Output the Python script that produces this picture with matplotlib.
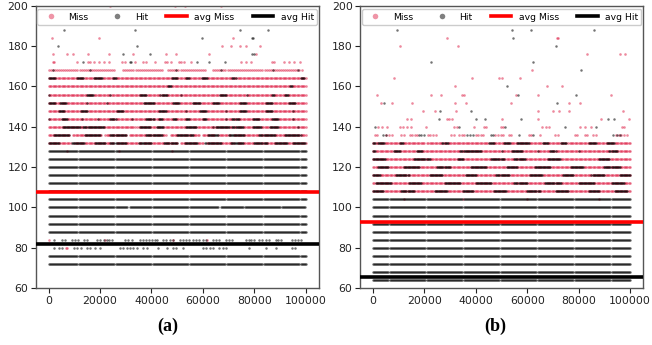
import numpy as np
import matplotlib
matplotlib.use("Agg")
import matplotlib.pyplot as plt
from matplotlib.lines import Line2D

# ---------------- data (x in thousands of samples, y = latency level) -------
FULL = [(0, 100)]

# panel (a)
A_MISS = {
    128: [7.2, 27.5, 48.0],
    132: [(0, 8.5), (10, 25), (26.5, 36), (37, 50), (51.5, 60), (61.5, 72), (73.5, 100)],
    136: [(0, 8), (9.5, 20.5), (22, 30), (31.5, 45.5), (47.5, 58.5), (60, 64.5), (66, 70.5), (72, 100)],
    140: [(0, 33.5), (34.5, 100)],
    144: FULL, 148: FULL, 152: FULL, 156: FULL, 160: FULL, 164: FULL,
    168: [(0, 26), (29, 44.6), (46.5, 61.3), (64, 98.6)],
    172: [1.5, 2.1, 11.1, 15.3, 16.0, 17.5, 19.4, 21.5, 23.4, 28.6, 29.5, 33.5, 36.6, 37.8,
          41.4, 45.3, 46.2, 47.5, 50.7, 51.4, 52.6, 55.2, 74.8, 76.7, 78.6, 87.0, 87.6,
          91.5, 93.4, 95.4, 97.9],
    176: [1.5, 7.2, 9.5, 15.1, 23.3, 32.7, 45.8, 49.4, 62.3, 80.6],
    180: [67.3, 70.9, 74.5, 76.7, 82.1],
    184: [1.4, 19.6, 71.6],
    200: [24, 49, 53, 67],
    84: [0.2, 22.0, 48.2, 61.5],
    80: [6.6, 7.2],
}
A_HIT = {
    72: FULL, 76: FULL, 88: FULL, 92: FULL, 96: FULL,
    100: [(0, 30.6), (31.6, 66), (67, 100)],
    104: FULL, 108: FULL, 112: FULL, 116: FULL, 120: FULL, 124: FULL, 128: FULL,
    132: [(0, 4), (9, 14), (18, 22), (24, 30), (35, 40), (45, 50), (53, 58), (61, 67),
          (71, 76), (80, 85), (88, 93), (95, 100)],
    136: [(2, 8), (14, 20), (24, 30), (38, 44), (50, 56), (62, 66), (70, 76), (82, 88), (92, 98)],
    140: [(5.5, 12.5), (13.5, 21.5), (35.5, 39.5), (42, 44.5), (53.5, 57.5), 64, (65, 70.5),
          (71.5, 75.5), (79.5, 83), (86, 89.5), 97],
    144: [0.2, (5, 7), 13, 19, (24, 26), 32.5, (38, 41), (43, 44.5), (48.5, 50), (53.5, 55),
          (60, 61.5), 69, (71.5, 74), (79.5, 82), (87, 89.5), 95],
    148: [(4, 6), (12.5, 15), (26.5, 29), (43, 46), 53.5, (59, 61.5), 69, (74.5, 77), (84.5, 87), 95],
    152: [(0, 2.5), (4.5, 7), 15, 22.5, (37, 41), (48.5, 51), (56, 59), (64, 66.5), (74.5, 77),
          (84.5, 87), (93.5, 96)],
    156: [0.2, (15, 17.5), 24, (35.5, 38), (43.5, 46), 51.5, (66.5, 69), 77, (87, 88), (92, 93.5)],
    160: [(46.5, 48), (94, 95)],
    164: [(0, 2.5), (11, 13.5), (17.5, 21), (25, 26.5), (48, 50), (53.5, 55), (59.5, 61.5),
          (71.5, 73), (98, 99.5)],
    168: [1.5, 16.0, 49.5, 67.0, 87.1, 97],
    172: [13.4, 31.7, 32.2, 57.7, 62.2, 68.7],
    176: [29.0, 39.5, 79.3, 80.0],
    180: [3.5, 34.5],
    184: [59.7, 79.0, 79.5],
    188: [6.0, 33.5, 74.4, 85.5],
    84: [2.1, (5.3, 7.2), (9.2, 12.4), (13.7, 15.6), (18.8, 20.1), (21.4, 25.3), (29.8, 31.1),
         32.3, (35.6, 39.4), (40.1, 43.3), (44.6, 45.9), (47.1, 49.1), (51, 52.3), (53.6, 54.9),
         (56.1, 58.7), (60, 62), (63.9, 67.1), (69, 71.6), (76.7, 80.6), (81.9, 83.2),
         (84.5, 86.4), (88.3, 91.5), (94.8, 97.3), 98],
    80: [2.1, 4.0, 5.2, 9.8, 11.0, 12.4, 15.0, 16.2, 18.2, 20.1, 27.8, 29.1, 30.4, 31.7,
         33.0, 34.3, 36.8, 38.1, 42.6, 45.9, 48.4, 49.7, 52.3, 60.0, 61.3, 62.6, 63.9,
         66.4, 67.7, 69.0, 78.0, 84.5, 88.3, 94.8, 96.0],
}
A_AVG_MISS = 107.8
A_AVG_HIT = 82.0

# panel (b)
B_MISS = {
    104: [12, 35, 60, 88],
    108: FULL, 112: FULL, 116: FULL, 120: FULL, 124: FULL, 128: FULL,
    132: [(0, 20), (21, 45), (46, 75), (76, 100)],
    136: [(0.7, 2.6), (5.2, 7.7), (11, 12.9), (14.2, 17.4), (21.3, 25.1), (30.3, 32.2),
          (33.5, 36.1), (39.9, 43.8), (47.6, 50.9), (52.8, 54.7), (60.5, 61.8), 65.0,
          (70.8, 72.1), (78.5, 80.4), (82.4, 84.3), (85.6, 87.5), (94.6, 97.2), (97.8, 99.7)],
    140: [2.0, 3.6, 5.3, 10.4, 11.7, 13.2, 14.9, 20.7, 31.6, 32.8, 39.3, 43.2, 43.8, 49.9,
          50.4, 65.9, 67.2, 68.5, 80.7, 82.4, 84.9, 96.8, 97.5],
    144: [13.2, 14.8, 28.6, 29.6, 30.9, 50.2, 64.3, 88.8, 99.7],
    148: [19.3, 24.2, 32.2, 64.3, 70.1, 72.3, 76.2, 97.2],
    152: [3.2, 7.3, 15.2, 31.8, 36.0, 53.8, 76.3, 80.4],
    156: [1.5, 22.5, 26.4, 34.7, 35.4, 55.5, 64.0, 92.7],
    160: [32.0, 67.8, 73.7],
    164: [8.3, 38.6, 49.2, 50.2, 57.1],
    168: [62.0],
    176: [83.3, 96.1, 98.2],
    180: [10.4, 33.0],
    184: [28.6, 71.6, 71.9],
}
B_HIT = {
    64: FULL, 68: FULL, 72: FULL, 76: FULL, 80: FULL, 84: FULL, 88: FULL,
    92: FULL, 96: FULL, 100: FULL, 104: FULL,
    108: [(0, 4), (11, 16), (24, 29), (35, 39), (47, 52), (60, 65), (71, 76), (84, 88), (94, 99)],
    112: [(1, 7), (14, 19), (28, 34), (40, 46), (55, 60), (67, 73), (80, 86), (93, 98)],
    116: [(0, 3), (9, 14), (22, 27), (36, 40), (48, 53), (61, 66), (74, 78), (85, 90), (96, 100)],
    120: [(2, 6), (12, 18), (25, 30), (38, 44), (52, 56), (63, 69), (77, 82), (90, 96)],
    124: [(0, 5), (16, 22), (33, 35), (46, 51), (55, 59), (68, 73), (88, 92)],
    128: [(0, 0.8), (8, 10.5), (17, 19), (34, 42), 50, (54, 58), 64, (69, 71), 80, (92, 95)],
    132: [(0, 1), (2, 4.5), (10.5, 12), (27, 29), (45, 47), (51, 53.5), (56, 61), (66, 68),
          (73, 75), (84, 87), (91, 94)],
    136: [(3.9, 4.9), (17.8, 20.6), (36.7, 39.3), (45.7, 47), 56.9, (62.4, 63.1), 93.3, (95, 96.5)],
    140: [0.6, 33.5, 51.5, 74.6, 86.9],
    144: [25.5, 39.9, 43.4, 57.5, 91.6, 93.9],
    148: [26.0, 38.3],
    152: [4.1, 71.4],
    156: [56.5, 79.1],
    160: [52.1],
    168: [81.0],
    172: [22.7, 62.4],
    180: [71.0],
    184: [54.6],
    188: [9.3, 54.1, 61.4, 85.9],
}
B_AVG_MISS = 92.9
B_AVG_HIT = 65.6

# rendering spacing of runs (thousands of samples)
A_STEP = {84: 1.1, 168: 0.8}
B_STEP = {136: 1.0}
MISS_STEP = 0.5
HIT_STEP = 0.4

MISS_COLOR = "crimson"
HIT_COLOR = "black"


def expand(levels, steps, default_step):
    xs, ys = [], []
    for y, items in levels.items():
        st = steps.get(y, default_step)
        for it in items:
            if isinstance(it, tuple):
                seg = np.arange(it[0], it[1] + 1e-9, st)
            else:
                seg = np.array([it])
            xs.append(seg * 1000.0)
            ys.append(np.full(seg.shape, float(y)))
    return np.concatenate(xs), np.concatenate(ys)


fig = plt.figure(figsize=(6.52, 3.45), dpi=100)
ax_a = fig.add_axes([0.055, 0.165, 0.4335, 0.818])
ax_b = fig.add_axes([0.5525, 0.165, 0.4335, 0.818])

panels = [
    (ax_a, A_MISS, A_HIT, A_STEP, A_AVG_MISS, A_AVG_HIT, "(a)", 0.258),
    (ax_b, B_MISS, B_HIT, B_STEP, B_AVG_MISS, B_AVG_HIT, "(b)", 0.759),
]

for ax, miss, hit, steps, avg_m, avg_h, lab, lx in panels:
    mx, my = expand(miss, steps, MISS_STEP)
    hx, hy = expand(hit, steps, HIT_STEP)
    ax.scatter(mx, my, s=3.5, c=MISS_COLOR, alpha=0.5, linewidths=0, zorder=2)
    ax.scatter(hx, hy, s=3.2, c=HIT_COLOR, alpha=0.55, linewidths=0, zorder=3)
    ax.axhline(avg_m, color="red", lw=2.6, zorder=4)
    ax.axhline(avg_h, color="black", lw=2.6, zorder=4)
    ax.set_xlim(-5000, 105000)
    ax.set_ylim(60, 200)
    ax.set_xticks([0, 20000, 40000, 60000, 80000, 100000])
    ax.set_yticks([60, 80, 100, 120, 140, 160, 180, 200])
    ax.tick_params(labelsize=7.8, length=3.5, width=0.8, pad=2, colors="#222222")
    for sp in ax.spines.values():
        sp.set_color("#555555")
        sp.set_linewidth(1.0)
    handles = [
        Line2D([], [], ls="", marker="o", color=MISS_COLOR, alpha=0.45, markersize=4, mew=0),
        Line2D([], [], ls="", marker="o", color=HIT_COLOR, alpha=0.5, markersize=4, mew=0),
        Line2D([], [], color="red", lw=2.6),
        Line2D([], [], color="black", lw=2.6),
    ]
    ax.legend(handles, ["Miss", "Hit", "avg Miss", "avg Hit"], loc="upper left",
              bbox_to_anchor=(0.005, 0.988, 0.99, 0), mode="expand", ncol=4,
              fontsize=6.7, handlelength=2.2, handletextpad=0.8, borderaxespad=0.0,
              borderpad=0.35, framealpha=1.0)
    fig.text(lx, 0.055, lab, ha="center", va="center", fontsize=13,
             fontweight="bold", family="Liberation Serif")

fig.savefig("out.png", dpi=100)
